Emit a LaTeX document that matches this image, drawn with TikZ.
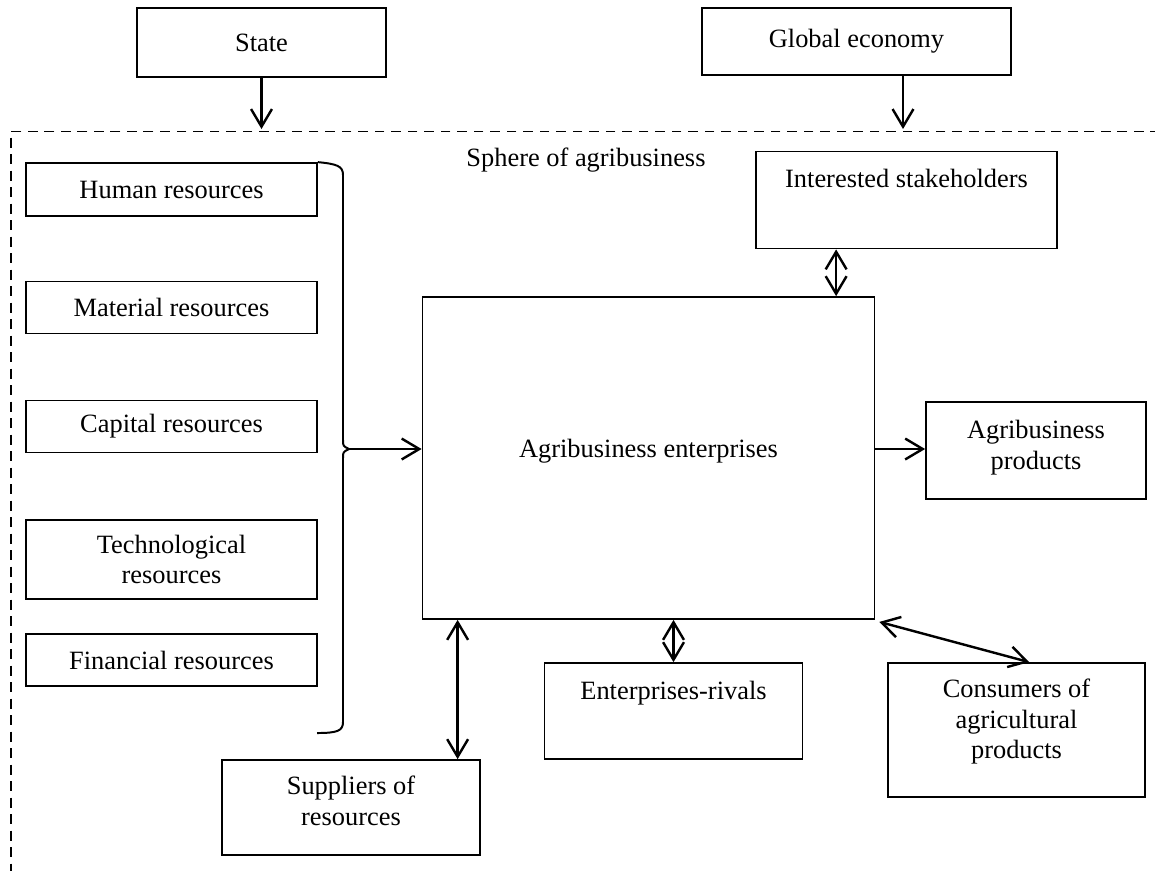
\documentclass[tikz,border=0pt]{standalone}
\usepackage{fontspec}
\setmainfont{Liberation Serif}
\usetikzlibrary{arrows.meta,calc}
\newdimen\pxu \pxu=0.4545pt
\begin{document}
\begin{tikzpicture}[x=0.4545pt, y=-0.4545pt,
    box/.style={draw, line width=0.8pt, align=center, inner sep=1pt, font=\fontsize{12}{13.7}\selectfont},
    link/.style={line width=1.1pt},
    >={Straight Barb[length=8pt,width=9.5pt]}]
  \useasboundingbox (0,0) rectangle (1155,870);
  \clip (0,0) rectangle (1155,870);
  \draw[line width=0.7pt, dash pattern=on 4.5pt off 3pt] (1160,131.5) -- (11,131.5) -- (11,880);
  \node[box, minimum width=249*\pxu, minimum height=69*\pxu] (state) at (261.5,42.5){State};
  \node[box, minimum width=309*\pxu, minimum height=67*\pxu] (glob) at (856.5,41.5){Global economy};
  \coordinate (stin) at (261.5,129);
  \coordinate (glin) at (903,129);
  \draw[link,->](state) -- (stin);
  \draw[link,->](glob.south -| glin) -- (glin);
  \node[font=\fontsize{12}{13.7}\selectfont] (sphere) at (586,160){Sphere of agribusiness};
  \node[box, minimum width=291*\pxu, minimum height=53*\pxu] (res0) at (171.5,189.5){Human resources};
  \node[box, minimum width=291*\pxu, minimum height=52*\pxu] (res1) at (171.5,307.5){Material resources};
  \node[box, minimum width=291*\pxu, minimum height=52*\pxu] (res2) at (171.5,426.5){Capital resources};
  \node[box, minimum width=291*\pxu, minimum height=79*\pxu] (res3) at (171.5,559.5){Technological\\resources};
  \node[box, minimum width=291*\pxu, minimum height=52*\pxu] (res4) at (171.5,660){Financial resources};
  \draw[line width=0.9pt](res0.north east) .. controls (337,164) and (343,166) .. (343,175) -- (343,440) .. controls (343,446) .. (349,449) coordinate (brace) .. controls (343,452) .. (343,458) -- (343,722) .. controls (343,731) and (337,733) .. (317,733);
  \node[box, minimum width=452*\pxu, minimum height=322*\pxu, text depth=9.2pt] (ent) at (648.5,458){Agribusiness enterprises};
  \draw[link,->](brace) -- (brace -| ent.west);
  \node[box, minimum width=301*\pxu, minimum height=97*\pxu, text depth=20pt] (stake) at (906.5,200){Interested stakeholders};
  \draw[link,<->]($(stake.south west)+(81,0)$) coordinate (sk) -- (sk |- ent.north);
  \node[box, minimum width=220*\pxu, minimum height=97*\pxu, text depth=5.2pt] (prod) at (1036,450.5){Agribusiness\\products};
  \draw[link,->](ent.east |- brace) -- (prod.west |- brace);
  \node[box, minimum width=258*\pxu, minimum height=96*\pxu, text depth=19pt] (riv) at (673.5,711){Enterprises-rivals};
  \draw[link,<->](ent.south -| riv.north) -- (riv.north);
  \node[box, minimum width=257*\pxu, minimum height=134*\pxu, text depth=10.2pt] (cons) at (1016.5,730){Consumers of\\agricultural\\products};
  \draw[link,<->]($(ent.south east)+(4,2)$) -- ($(cons.north west)+(142,0)$);
  \node[box, minimum width=258*\pxu, minimum height=95*\pxu, text depth=6.2pt] (sup) at (351,807.5){Suppliers of\\resources};
  \draw[link,<->]($(ent.south west)+(36,0)$) coordinate (sp) -- (sp |- sup.north);
\end{tikzpicture}
\end{document}
